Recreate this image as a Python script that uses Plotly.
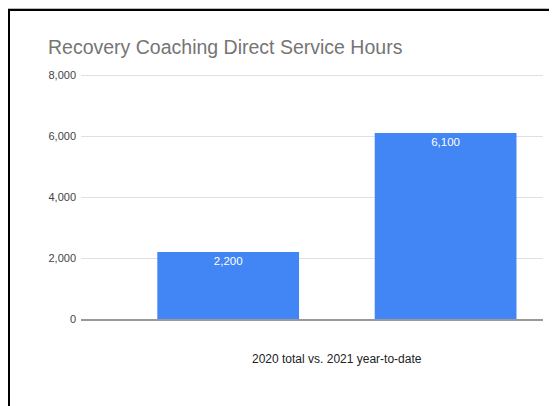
import plotly.graph_objects as go

categories = ["2020 total", "2021 year-to-date"]
hours = [2200, 6100]
y_ticks = [0, 2000, 4000, 6000, 8000]
y_tick_labels = ["0", "2,000", "4,000", "6,000", "8,000"]

# the page body adds an 8px offset; layout is expressed in reference pixels
OFF = 8
W, H = 557 - OFF, 406 - OFF
PLOT_X0, PLOT_X1 = 81, 543   # reference pixels
PLOT_Y0, PLOT_Y1 = 68, 319   # top padded a little so the 8,000 gridline shows
L = PLOT_X0 - OFF
R = W - (PLOT_X1 - OFF)
T = PLOT_Y0 - OFF
B = H - (PLOT_Y1 - OFF)
PW, PH = W - L - R, H - T - B
Y_MAX = 8000 * PH / 244.0     # 8,000 sits at reference y=75


def px(x):
    return (x - PLOT_X0) / PW


def py(y):
    return (PLOT_Y1 - y) / PH


fig = go.Figure(
    go.Bar(
        x=categories,
        y=hours,
        marker=dict(color="#4285F4", line=dict(width=0)),
        texttemplate="%{y:,}",
        textposition="inside",
        insidetextanchor="end",
        textfont=dict(family="Liberation Sans, Arial", size=11.5, color="white"),
        hoverinfo="skip",
    )
)

fig.update_layout(
    width=W,
    height=H,
    margin=dict(l=L, r=R, t=T, b=B),
    paper_bgcolor="white",
    plot_bgcolor="white",
    bargap=0.348,
    showlegend=False,
    font=dict(family="Liberation Sans, Arial", size=11, color="#444444"),
)

fig.update_xaxes(
    type="category",
    range=[-0.677, 1.448],
    showticklabels=False,
    showgrid=False,
    ticks="",
    showline=True,
    linecolor="rgba(0,0,0,0.4)",
    linewidth=1.5,
    zeroline=False,
)

fig.update_yaxes(
    range=[0, Y_MAX],
    tickvals=y_ticks,
    ticktext=y_tick_labels,
    showgrid=True,
    gridcolor="#e0e0e0",
    gridwidth=1,
    zeroline=False,
    ticks="",
    ticklabelstandoff=4,
    tickfont=dict(family="Liberation Sans, Arial", size=11, color="#444444"),
)

fig.add_annotation(
    text="Recovery Coaching Direct Service Hours",
    xref="paper", yref="paper",
    x=px(45.5), y=py(47),
    xanchor="left", yanchor="middle",
    showarrow=False,
    font=dict(family="Liberation Sans, Arial", size=19.5, color="#757575"),
)

fig.add_annotation(
    text="2020 total vs. 2021 year-to-date",
    xref="paper", yref="paper",
    x=px(337), y=py(359),
    xanchor="center", yanchor="middle",
    showarrow=False,
    font=dict(family="Liberation Sans, Arial", size=12, color="#222222"),
)

# outer frame (top and left edges visible in the reference crop)
fig.add_shape(type="line", xref="paper", yref="paper",
              x0=px(8), x1=px(600), y0=py(8.5), y1=py(8.5),
              line=dict(color="#bbbbbb", width=1))
fig.add_shape(type="line", xref="paper", yref="paper",
              x0=px(8), x1=px(600), y0=py(10), y1=py(10),
              line=dict(color="black", width=2))
fig.add_shape(type="line", xref="paper", yref="paper",
              x0=px(9), x1=px(9), y0=py(9), y1=py(450),
              line=dict(color="black", width=2))

fig.write_html("out.html")
